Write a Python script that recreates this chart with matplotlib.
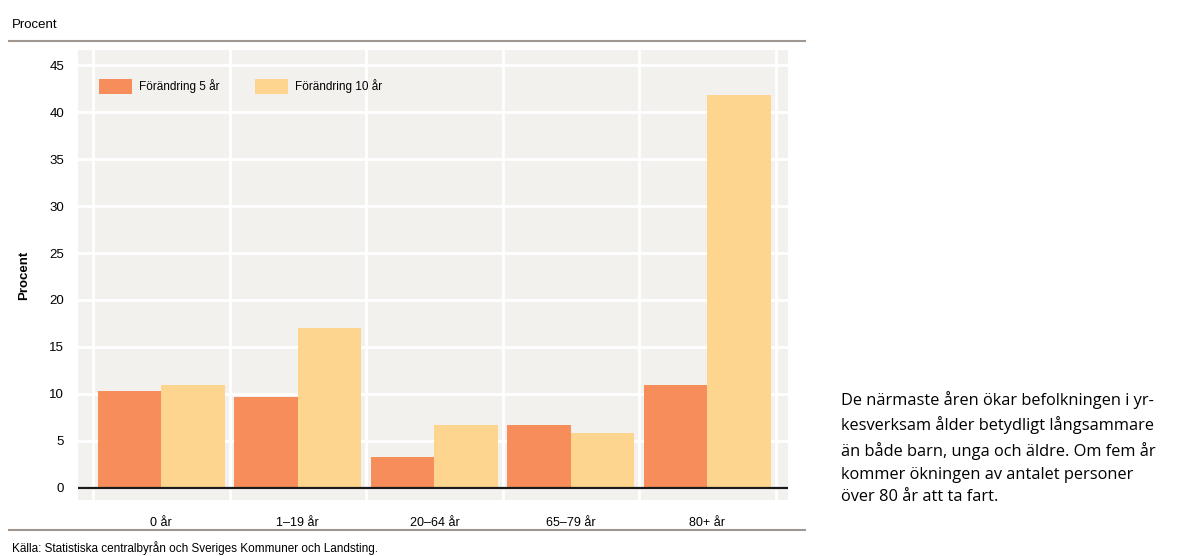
import matplotlib.pyplot as plt
import numpy as np

categories = ['0 år', '1–19 år', '20–64 år', '65–79 år', '80+ år']
change_5 = [10.3, 9.7, 3.3, 6.7, 11.0]
change_10 = [11.0, 17.0, 6.7, 5.8, 41.8]
yticks = [0, 5, 10, 15, 20, 25, 30, 35, 40, 45]

fam = ['Liberation Sans Narrow', 'Liberation Sans', 'DejaVu Sans']
plt.rcParams['font.family'] = fam

fig = plt.figure(figsize=(11.79, 5.56), dpi=100)
ax = fig.add_axes([0.0662, 0.1007, 0.6022, 0.809])
ax.set_facecolor('#F2F1EE')

ind = np.arange(len(categories))
w = 0.465
p1 = ax.bar(ind - w / 2, change_5, w, color='#F68D5A', zorder=3, label='Förändring 5 år')
p2 = ax.bar(ind + w / 2, change_10, w, color='#FDD58E', zorder=3, label='Förändring 10 år')

ax.set_xlim(-0.61, 4.59)
ax.set_ylim(-1.3, 46.6)
ax.set_yticks(yticks)
ax.set_xticks(ind)
ax.set_xticklabels(categories, fontsize=9)
ax.tick_params(axis='y', labelsize=9.5, length=0, pad=10)
ax.tick_params(axis='x', which='both', length=0, pad=12)

# white grid at category boundaries and every 5 percent
ax.set_xticks(np.arange(-0.5, 5, 1), minor=True)
ax.grid(axis='x', which='minor', color='white', lw=2, zorder=1)
ax.grid(axis='y', which='major', color='white', lw=2, zorder=1)
ax.axhline(0, color='#1a1a1a', lw=1.6, zorder=4)
for s in ax.spines.values():
    s.set_visible(False)

ax.set_ylabel('Procent', fontsize=9.5, fontweight='bold', labelpad=14)

ax.legend(loc='upper left', ncol=2, frameon=False, fontsize=8.5,
          handlelength=2.8, handleheight=1.6, columnspacing=3.0,
          handletextpad=0.6, bbox_to_anchor=(0.014, 0.96))

# header, rules and source
fig.text(0.010, 0.955, 'Procent', fontsize=9.5, va='center')
fig.add_artist(plt.Line2D([0.008, 0.683], [0.926, 0.926], color='#A09890', lw=1.5))
fig.add_artist(plt.Line2D([0.008, 0.683], [0.047, 0.047], color='#A09890', lw=1.5))
fig.text(0.010, 0.014, 'Källa: Statistiska centralbyrån och Sveriges Kommuner och Landsting.',
         fontsize=8.5, va='center')

side = ('De närmaste åren ökar befolkningen i yr-\n'
        'kesverksam ålder betydligt långsammare\n'
        'än både barn, unga och äldre. Om fem år\n'
        'kommer ökningen av antalet personer\n'
        'över 80 år att ta fart.')
fig.text(0.713, 0.297, side, fontsize=11.8, family=['Open Sans', 'DejaVu Sans'],
         va='top', linespacing=1.55)

fig.savefig('out.png', dpi=100)
